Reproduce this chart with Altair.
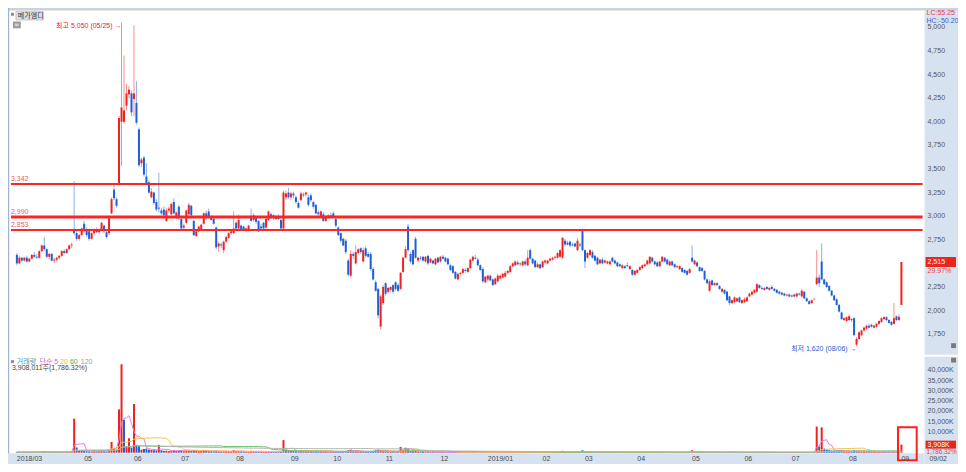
import altair as alt
import numpy as np
import pandas as pd

W, H = 950, 456
SX, SY = W / 966, H / 472


def fx(v):
    return round(v * SX, 2)


def fy(v):
    return round(v * SY, 2)


FONT = "'Liberation Sans', Arial, 'Noto Sans CJK KR', sans-serif"

# ---------------- data (daily candles, KRW) ----------------
open_ = [
    2590, 2500, 2560, 2530, 2560, 2520, 2550, 2590, 2570, 2560,
    2630, 2690, 2650, 2570, 2600, 2530, 2540, 2560, 2580, 2630,
    2610, 2650, 2690, 2850, 2820, 2760, 2800, 2920, 2850, 2840,
    2760, 2820, 2860, 2830, 2860, 2900, 2830, 2820, 3030, 3280,
    3180, 3340, 4000, 4000, 4170, 4290, 4300, 4240, 4200, 3920,
    3560, 3620, 3420, 3360, 3200, 3250, 3150, 3090, 3060, 3070,
    2950, 3060, 3020, 3150, 2980, 3100, 2970, 2880, 2930, 3020,
    3110, 2950, 2790, 2840, 2860, 2920, 3030, 3050, 3000, 2970,
    2880, 2680, 2700, 2640, 2730, 2770, 2820, 2820, 2930, 2870,
    2900, 2890, 2850, 2850, 2980, 2960, 2980, 2950, 2890, 2930,
    2880, 2960, 3020, 3010, 2970, 3000, 2960, 2870, 3200, 3250,
    3200, 3240, 3200, 3140, 3170, 3220, 3230, 3200, 3220, 3150,
    3120, 3040, 3000, 3020, 2950, 3000, 3010, 3030, 2970, 2880,
    2820, 2760, 2740, 2530, 2370, 2600, 2500, 2610, 2660, 2520,
    2660, 2600, 2600, 2440, 2300, 2230, 1830, 2080, 2290, 2200,
    2220, 2270, 2300, 2270, 2230, 2410, 2560, 2890, 2600, 2640,
    2760, 2530, 2560, 2570, 2520, 2580, 2510, 2530, 2490, 2560,
    2520, 2570, 2560, 2550, 2480, 2470, 2410, 2330, 2390, 2400,
    2430, 2410, 2450, 2530, 2560, 2540, 2480, 2440, 2300, 2330,
    2370, 2330, 2280, 2310, 2340, 2350, 2360, 2400, 2410, 2470,
    2480, 2510, 2490, 2480, 2520, 2480, 2640, 2550, 2530, 2460,
    2490, 2460, 2510, 2500, 2530, 2540, 2560, 2560, 2570, 2560,
    2740, 2720, 2730, 2700, 2710, 2640, 2700, 2850, 2640, 2560,
    2590, 2620, 2580, 2560, 2500, 2540, 2510, 2500, 2490, 2560,
    2530, 2510, 2490, 2450, 2470, 2480, 2440, 2430, 2380, 2400,
    2430, 2450, 2470, 2490, 2500, 2560, 2520, 2510, 2470, 2520,
    2560, 2540, 2480, 2520, 2490, 2460, 2440, 2450, 2430, 2420,
    2400, 2560, 2490, 2510, 2460, 2450, 2420, 2330, 2210, 2320,
    2270, 2290, 2260, 2200, 2220, 2200, 2150, 2080, 2090, 2100,
    2140, 2080, 2090, 2100, 2150, 2170, 2190, 2200, 2270, 2240,
    2220, 2250, 2220, 2250, 2230, 2220, 2200, 2190, 2180, 2160,
    2170, 2150, 2170, 2150, 2180, 2150, 2200, 2130, 2100, 2080,
    2120, 2280, 2350, 2520, 2330, 2300, 2260, 2210, 2160, 2120,
    2060, 1980, 1900, 1890, 1900, 1900, 1920, 1640, 1700, 1740,
    1790, 1810, 1840, 1850, 1820, 1830, 1860, 1880, 1910, 1930,
    1900, 1880, 1860, 1940, 1900, 2060,
]
high = [
    2610, 2580, 2570, 2570, 2580, 2560, 2600, 2620, 2600, 2640,
    2700, 2780, 2660, 2610, 2610, 2560, 2570, 2590, 2640, 2650,
    2660, 2700, 2720, 3370, 2850, 2810, 2880, 2950, 2880, 2870,
    2830, 2870, 2880, 2870, 2940, 2910, 2850, 2990, 3200, 3340,
    3200, 4060, 5050, 4700, 4400, 4380, 4330, 5020, 4430, 3940,
    3620, 3640, 3560, 3380, 3300, 3260, 3180, 3460, 3090, 3100,
    3090, 3100, 3140, 3190, 3050, 3120, 2990, 2920, 3070, 3140,
    3120, 2960, 2850, 2900, 2920, 3040, 3060, 3080, 3010, 2980,
    2890, 2730, 2720, 2740, 2790, 2830, 2860, 3050, 2950, 3020,
    2910, 2900, 2880, 2910, 3080, 3030, 3000, 2960, 2920, 2940,
    2980, 3060, 3040, 3020, 3010, 3020, 2970, 3270, 3270, 3300,
    3260, 3260, 3220, 3160, 3260, 3250, 3260, 3230, 3240, 3160,
    3130, 3060, 3060, 3040, 3010, 3020, 3040, 3050, 2990, 2890,
    2830, 2770, 2760, 2550, 2640, 2620, 2690, 2660, 2670, 2670,
    2680, 2620, 2620, 2460, 2320, 2240, 2170, 2270, 2300, 2250,
    2260, 2280, 2310, 2290, 2410, 2570, 2680, 2920, 2620, 2650,
    2780, 2570, 2580, 2580, 2580, 2590, 2560, 2540, 2560, 2570,
    2580, 2590, 2570, 2560, 2490, 2480, 2420, 2400, 2410, 2450,
    2450, 2460, 2550, 2580, 2590, 2560, 2490, 2460, 2370, 2380,
    2380, 2340, 2350, 2390, 2380, 2400, 2420, 2430, 2480, 2510,
    2530, 2530, 2510, 2530, 2540, 2640, 2660, 2560, 2540, 2510,
    2500, 2530, 2540, 2540, 2560, 2570, 2580, 2620, 2650, 2780,
    2760, 2740, 2740, 2720, 2720, 2770, 2720, 2870, 2650, 2620,
    2650, 2640, 2590, 2570, 2550, 2560, 2540, 2530, 2530, 2570,
    2540, 2520, 2500, 2490, 2480, 2510, 2480, 2440, 2430, 2440,
    2470, 2490, 2500, 2540, 2580, 2570, 2530, 2520, 2530, 2580,
    2570, 2550, 2530, 2530, 2500, 2480, 2480, 2460, 2440, 2430,
    2450, 2690, 2540, 2520, 2470, 2460, 2430, 2340, 2330, 2330,
    2300, 2300, 2270, 2240, 2230, 2210, 2160, 2120, 2150, 2140,
    2150, 2120, 2140, 2150, 2190, 2210, 2230, 2290, 2280, 2260,
    2250, 2260, 2250, 2270, 2240, 2230, 2210, 2200, 2190, 2180,
    2180, 2170, 2180, 2190, 2190, 2230, 2210, 2140, 2110, 2120,
    2130, 2640, 2380, 2710, 2340, 2310, 2270, 2220, 2170, 2130,
    2070, 1990, 1930, 1940, 1960, 1920, 1930, 1720, 1780, 1800,
    1830, 1850, 1860, 1860, 1850, 1870, 1900, 1930, 1940, 1940,
    1910, 1890, 2080, 1950, 1960, 2515,
]
low = [
    2480, 2490, 2510, 2520, 2510, 2510, 2540, 2560, 2550, 2550,
    2620, 2630, 2560, 2540, 2520, 2500, 2520, 2540, 2570, 2600,
    2600, 2640, 2660, 2800, 2740, 2740, 2790, 2830, 2780, 2740,
    2750, 2800, 2820, 2810, 2850, 2820, 2760, 2800, 3020, 3170,
    3090, 3330, 3530, 3980, 4120, 4250, 4060, 4060, 3970, 3520,
    3520, 3420, 3340, 3240, 3190, 3120, 3050, 3040, 3010, 2990,
    2940, 3040, 3010, 3020, 2970, 2960, 2840, 2860, 2920, 2990,
    2990, 2790, 2780, 2830, 2850, 2910, 2960, 2990, 2950, 2910,
    2650, 2620, 2660, 2610, 2720, 2760, 2800, 2810, 2860, 2860,
    2850, 2840, 2830, 2840, 2940, 2940, 2920, 2830, 2860, 2860,
    2860, 2950, 2970, 2960, 2960, 2960, 2850, 2860, 3170, 3180,
    3170, 3190, 3130, 3080, 3160, 3200, 3210, 3100, 3150, 3080,
    3020, 3000, 2980, 2940, 2940, 2980, 2990, 2990, 2880, 2790,
    2720, 2680, 2600, 2360, 2350, 2550, 2490, 2600, 2600, 2510,
    2560, 2560, 2420, 2320, 2200, 1920, 1800, 2060, 2160, 2180,
    2200, 2180, 2210, 2200, 2220, 2400, 2550, 2620, 2500, 2480,
    2550, 2510, 2530, 2520, 2510, 2480, 2500, 2490, 2480, 2500,
    2510, 2540, 2510, 2480, 2420, 2390, 2330, 2320, 2370, 2390,
    2400, 2400, 2440, 2520, 2540, 2470, 2420, 2290, 2290, 2300,
    2310, 2260, 2270, 2300, 2330, 2340, 2350, 2380, 2400, 2460,
    2470, 2480, 2470, 2470, 2470, 2470, 2540, 2490, 2450, 2450,
    2440, 2450, 2490, 2490, 2520, 2530, 2540, 2550, 2560, 2550,
    2680, 2690, 2670, 2680, 2670, 2630, 2670, 2630, 2450, 2550,
    2580, 2550, 2520, 2480, 2490, 2490, 2500, 2490, 2480, 2510,
    2490, 2460, 2460, 2440, 2440, 2460, 2430, 2370, 2370, 2390,
    2420, 2440, 2460, 2480, 2490, 2510, 2480, 2460, 2460, 2510,
    2510, 2480, 2470, 2470, 2450, 2450, 2430, 2400, 2390, 2370,
    2390, 2510, 2480, 2460, 2410, 2410, 2320, 2280, 2200, 2260,
    2260, 2260, 2220, 2190, 2170, 2100, 2060, 2070, 2080, 2090,
    2080, 2070, 2080, 2090, 2140, 2160, 2180, 2190, 2230, 2220,
    2210, 2220, 2210, 2220, 2200, 2180, 2170, 2160, 2150, 2150,
    2140, 2140, 2140, 2140, 2160, 2140, 2120, 2090, 2060, 2070,
    2110, 2270, 2250, 2320, 2270, 2240, 2200, 2150, 2100, 2050,
    1980, 1900, 1890, 1880, 1890, 1880, 1730, 1620, 1690, 1730,
    1780, 1800, 1810, 1820, 1810, 1820, 1850, 1870, 1900, 1890,
    1860, 1840, 1850, 1890, 1890, 2060,
]
close = [
    2500, 2560, 2530, 2560, 2520, 2550, 2590, 2570, 2560, 2630,
    2690, 2650, 2570, 2600, 2530, 2540, 2560, 2580, 2630, 2610,
    2650, 2690, 2700, 2820, 2760, 2800, 2870, 2850, 2800, 2760,
    2820, 2860, 2830, 2860, 2930, 2840, 2780, 2980, 3180, 3190,
    3110, 4040, 4150, 4120, 4300, 4340, 4100, 4300, 3990, 3540,
    3600, 3440, 3350, 3250, 3260, 3140, 3070, 3080, 3030, 3010,
    3060, 3080, 3130, 3030, 3040, 2980, 2870, 2900, 3060, 3120,
    3010, 2800, 2840, 2890, 2910, 3030, 2980, 3000, 2960, 2920,
    2670, 2710, 2690, 2730, 2780, 2820, 2840, 2870, 2870, 2960,
    2860, 2850, 2870, 2900, 2950, 3010, 2940, 2840, 2870, 2870,
    2970, 3050, 2990, 2980, 3000, 2970, 2870, 3250, 3240, 3200,
    3240, 3220, 3150, 3090, 3240, 3230, 3250, 3120, 3170, 3100,
    3030, 3020, 3050, 2950, 3000, 3010, 3000, 3000, 2900, 2800,
    2740, 2690, 2620, 2380, 2600, 2580, 2620, 2650, 2620, 2640,
    2580, 2570, 2440, 2330, 2210, 1950, 2150, 2250, 2180, 2240,
    2250, 2200, 2230, 2210, 2400, 2560, 2650, 2640, 2520, 2490,
    2560, 2560, 2550, 2530, 2570, 2500, 2550, 2500, 2550, 2510,
    2570, 2550, 2520, 2490, 2430, 2400, 2340, 2390, 2400, 2440,
    2420, 2450, 2540, 2570, 2550, 2480, 2430, 2310, 2360, 2370,
    2320, 2270, 2340, 2370, 2370, 2390, 2400, 2420, 2470, 2500,
    2520, 2490, 2500, 2520, 2490, 2560, 2550, 2500, 2460, 2490,
    2450, 2520, 2530, 2530, 2550, 2560, 2570, 2610, 2640, 2770,
    2700, 2700, 2690, 2690, 2680, 2740, 2690, 2640, 2520, 2610,
    2640, 2560, 2530, 2490, 2540, 2500, 2530, 2520, 2520, 2520,
    2500, 2470, 2470, 2480, 2450, 2470, 2470, 2380, 2420, 2430,
    2460, 2480, 2490, 2530, 2570, 2520, 2490, 2470, 2520, 2570,
    2520, 2490, 2520, 2480, 2460, 2470, 2470, 2410, 2400, 2380,
    2440, 2520, 2530, 2470, 2420, 2420, 2330, 2290, 2310, 2270,
    2290, 2270, 2230, 2230, 2180, 2110, 2080, 2110, 2140, 2130,
    2090, 2110, 2120, 2140, 2180, 2200, 2220, 2280, 2240, 2230,
    2240, 2230, 2240, 2230, 2210, 2190, 2180, 2170, 2160, 2170,
    2150, 2160, 2150, 2180, 2170, 2210, 2130, 2100, 2070, 2110,
    2125, 2350, 2290, 2330, 2280, 2250, 2210, 2160, 2110, 2060,
    1990, 1910, 1920, 1930, 1940, 1910, 1740, 1700, 1770, 1790,
    1820, 1840, 1820, 1830, 1840, 1860, 1890, 1920, 1930, 1900,
    1870, 1850, 1920, 1900, 1935, 2515,
]
volume_k = [
    300, 250, 200, 280, 220, 260, 350, 240, 210, 380,
    450, 600, 300, 250, 230, 220, 260, 240, 400, 300,
    350, 420, 380, 16500, 2500, 900, 1200, 800, 700, 600,
    500, 650, 450, 500, 900, 600, 500, 1800, 5200, 2200,
    1500, 21000, 42900, 16000, 3000, 7000, 2500, 23600, 3800, 3200,
    1500, 1800, 2000, 1500, 1300, 1200, 1100, 3800, 1200, 900,
    1000, 800, 900, 1100, 900, 1000, 1200, 700, 900, 1000,
    800, 1300, 900, 700, 800, 1100, 900, 800, 700, 600,
    1000, 700, 500, 600, 600, 700, 500, 1300, 700, 800,
    600, 500, 400, 500, 900, 700, 500, 600, 400, 400,
    500, 700, 500, 400, 400, 400, 600, 6100, 1500, 1200,
    900, 800, 700, 600, 800, 600, 500, 600, 500, 400,
    500, 400, 500, 400, 400, 300, 300, 400, 500, 500,
    600, 500, 700, 1200, 1500, 900, 700, 600, 500, 500,
    400, 500, 700, 800, 1200, 1500, 1300, 800, 600, 400,
    400, 300, 300, 400, 2800, 1500, 2400, 2000, 800, 700,
    900, 500, 400, 400, 300, 400, 300, 300, 300, 250,
    300, 250, 200, 250, 300, 300, 350, 300, 250, 200,
    250, 200, 300, 350, 300, 250, 300, 350, 300, 200,
    200, 250, 200, 180, 200, 220, 200, 250, 300, 250,
    220, 200, 200, 250, 200, 300, 400, 250, 220, 200,
    200, 180, 200, 200, 220, 250, 300, 350, 500, 900,
    400, 300, 250, 250, 300, 500, 300, 1200, 600, 300,
    350, 250, 200, 200, 180, 200, 180, 170, 160, 200,
    180, 170, 160, 200, 180, 170, 200, 180, 200, 190,
    180, 200, 250, 220, 200, 300, 250, 200, 180, 200,
    250, 200, 180, 170, 160, 200, 180, 170, 160, 180,
    200, 1200, 400, 300, 250, 250, 300, 300, 250, 250,
    200, 200, 180, 200, 200, 300, 300, 250, 220, 200,
    200, 180, 200, 200, 220, 220, 300, 250, 200, 200,
    180, 180, 170, 160, 160, 150, 150, 140, 140, 130,
    130, 130, 120, 120, 140, 200, 250, 200, 200, 150,
    100, 12700, 3000, 12300, 2000, 1500, 1200, 1000, 900, 800,
    1000, 1200, 800, 600, 500, 500, 1200, 900, 700, 600,
    500, 400, 400, 350, 350, 300, 300, 400, 350, 300,
    250, 300, 600, 300, 207, 3908,
]

month_idx = [0, 27, 47, 66, 88, 110, 127, 148, 170, 189, 211, 228, 249, 271, 292, 311, 334, 355]
month_lbl = ["2018/03", "05", "06", "07", "08", "09", "10", "11", "12",
             "2019/01", "02", "03", "04", "05", "06", "07", "08", "09"]

price_ticks = [1750, 2000, 2250, 2500, 2750, 3000, 3250, 3500, 3750, 4000, 4250, 4500, 4750, 5000]
vol_ticks = [10000, 15000, 20000, 25000, 30000, 35000, 40000]

level_price = [3342, 2990, 2853]
level_lbl = ["3,342", "2,990", "2,853"]
level_width = [2, 3, 2]

ann_idx = [42, 337]
ann_price = [5050, 1620]
ann_text = ["최고 5,050 (05/25) →", "최저 1,620 (08/06) →"]
ann_kind = ["hi", "lo"]

last_price_lbl = "2,515"
last_price_pct = "29.97%"
last_vol_lbl = "3,908K"
last_vol_pct = "1,786.32%"
vol_info = "3,908,011주(1,786.32%)"

ma_windows = [5, 20, 60, 120]
ma_colors = ["#ee7ad8", "#f6c24a", "#6cc06c", "#b4b4b4"]

# ---------------- frames ----------------
n = len(close)
df = pd.DataFrame({"i": np.arange(n), "o": open_, "h": high, "l": low, "c": close, "v": volume_k})
df["candle"] = np.where(df.c >= df.o, "up", "down")
prev_close = df.c.shift(1).fillna(df.o)
df["vcol"] = np.where(df.c >= prev_close, "up", "down")

months = pd.DataFrame({"i": month_idx, "lbl": month_lbl})
ptk = pd.DataFrame({"t": price_ticks, "lbl": [f"{t:,}" for t in price_ticks]})
vtk = pd.DataFrame({"t": vol_ticks, "lbl": [f"{t:,}K" for t in vol_ticks]})
levels = pd.DataFrame({"p": level_price, "lbl": level_lbl, "w": level_width})
ann = pd.DataFrame({"i": ann_idx, "p": ann_price, "txt": ann_text, "kind": ann_kind})
last = pd.DataFrame({"p": [close[-1]], "lbl": [last_price_lbl], "pct": [last_price_pct]})
lastv = pd.DataFrame({"v": [volume_k[-1]], "lbl": [last_vol_lbl], "pct": [last_vol_pct]})
one = pd.DataFrame({"k": [0]})

xs = alt.Scale(domain=[-1.55, 375.7], nice=False, zero=False)
ps = alt.Scale(domain=[375.6, 5204.6], nice=False, zero=False)
vs = alt.Scale(domain=[-5484, 215766], nice=False, zero=False)
cs = alt.Scale(domain=["up", "down"], range=["#ee2222", "#1f5fd6"])

X = alt.X("i:Q", scale=xs, axis=None)


def rect(x1, x2, y1, y2, **kw):
    return alt.Chart(one).mark_rect(**kw).encode(
        x=alt.value(x1), x2=alt.value(x2), y=alt.value(y1), y2=alt.value(y2))


def label(x, y, text, color, size=7, align="left", baseline="middle", weight="normal"):
    return alt.Chart(one).mark_text(text=text, color=color, fontSize=size, align=align,
                                    baseline=baseline, font=FONT, fontWeight=weight).encode(
        x=alt.value(x), y=alt.value(y))


layers = []
BAND = "#d7e2f0"
# background bands
layers.append(rect(fx(932), W, 0, H, fill=BAND))
layers.append(rect(0, fx(932), fy(461), H, fill=BAND))
layers.append(rect(0, W, 0, fy(2.5), fill="#cdd3da"))
layers.append(rect(0, 1.2, 0, fy(461), fill="#9fb4d2"))
layers.append(rect(fx(932), W, fy(359), fy(361), fill="#ffffff"))

# price candles
layers.append(alt.Chart(df).mark_rule(strokeWidth=1, opacity=0.5).encode(
    X, y=alt.Y("l:Q", scale=ps, axis=None), y2="h:Q",
    color=alt.Color("candle:N", scale=cs, legend=None)))
layers.append(alt.Chart(df).mark_bar(size=2).encode(
    X, y=alt.Y("o:Q", scale=ps, axis=None), y2="c:Q",
    color=alt.Color("candle:N", scale=cs, legend=None)))

# horizontal price levels
layers.append(alt.Chart(levels).mark_rule(color="#ff2424").encode(
    x=alt.value(fx(3)), x2=alt.value(fx(930)),
    y=alt.Y("p:Q", scale=ps, axis=None),
    strokeWidth=alt.StrokeWidth("w:Q", scale=None, legend=None)))
layers.append(alt.Chart(levels).mark_text(align="left", baseline="bottom", dy=-2, fontSize=7,
                                          color="#f05a5a", font=FONT).encode(
    x=alt.value(fx(3)), y=alt.Y("p:Q", scale=ps, axis=None), text="lbl:N"))

# volume bars + moving averages
layers.append(alt.Chart(df).mark_bar(size=2).encode(
    X, y=alt.Y("v:Q", scale=vs, axis=None), y2=alt.datum(0),
    color=alt.Color("vcol:N", scale=cs, legend=None)))
for w_, col in zip(ma_windows, ma_colors):
    layers.append(alt.Chart(df).transform_window(
        ma="mean(v)", frame=[-(w_ - 1), 0], sort=[alt.SortField("i")]
    ).mark_line(strokeWidth=1, color=col).encode(X, y=alt.Y("ma:Q", scale=vs, axis=None)))

# annotations
ann_cs = alt.Scale(domain=["hi", "lo"], range=["#f03a3a", "#3046e0"])
layers.append(alt.Chart(ann).mark_text(align="right", baseline="middle", dx=0, dy=3, fontSize=7,
                                       font=FONT).encode(
    X, y=alt.Y("p:Q", scale=ps, axis=None), text="txt:N",
    color=alt.Color("kind:N", scale=ann_cs, legend=None)))

# right axis labels
layers.append(alt.Chart(ptk).mark_text(align="left", baseline="middle", fontSize=7, color="#555555",
                                       font=FONT).encode(
    x=alt.value(fx(935)), y=alt.Y("t:Q", scale=ps, axis=None), text="lbl:N"))
layers.append(alt.Chart(vtk).mark_text(align="left", baseline="middle", fontSize=7, color="#555555",
                                       font=FONT).encode(
    x=alt.value(fx(935)), y=alt.Y("t:Q", scale=vs, axis=None), text="lbl:N"))

# current price / volume markers
layers.append(alt.Chart(last).mark_rect(color="#e8261c", yOffset=-5, y2Offset=5).encode(
    x=alt.value(fx(933)), x2=alt.value(fx(964)),
    y=alt.Y("p:Q", scale=ps, axis=None), y2="p:Q"))
layers.append(alt.Chart(last).mark_text(align="left", baseline="middle", fontSize=7, color="white",
                                        font=FONT).encode(
    x=alt.value(fx(935)), y=alt.Y("p:Q", scale=ps, axis=None), text="lbl:N"))
layers.append(alt.Chart(last).mark_text(align="left", baseline="middle", dy=9, fontSize=7,
                                        color="#f03a3a", font=FONT).encode(
    x=alt.value(fx(935)), y=alt.Y("p:Q", scale=ps, axis=None), text="pct:N"))
layers.append(alt.Chart(lastv).mark_rect(color="#e8261c", yOffset=-4, y2Offset=4).encode(
    x=alt.value(fx(933)), x2=alt.value(fx(964)),
    y=alt.Y("v:Q", scale=vs, axis=None), y2="v:Q"))
layers.append(alt.Chart(lastv).mark_text(align="left", baseline="middle", fontSize=7, color="white",
                                         font=FONT).encode(
    x=alt.value(fx(935)), y=alt.Y("v:Q", scale=vs, axis=None), text="lbl:N"))
layers.append(alt.Chart(lastv).mark_text(align="left", baseline="middle", dy=7.5, fontSize=6.3,
                                         color="#f03a3a", font=FONT).encode(
    x=alt.value(fx(934)), y=alt.Y("v:Q", scale=vs, axis=None), text="pct:N"))

# highlight box around last volume bar
layers.append(rect(fx(905), fx(924), fy(434), fy(468), filled=False, stroke="#ff2020", strokeWidth=2))

# x-axis month labels
layers.append(alt.Chart(months).mark_text(align="left", baseline="middle", fontSize=7, color="#4a4a4a",
                                          font=FONT).encode(
    X, y=alt.value(fy(466.5)), text="lbl:N"))
layers.append(label(fx(937), fy(466.5), "09/02", "#4a4a4a"))

# top-left stock name
layers.append(rect(fx(3), fx(6), fy(5), fy(8), fill="#8a8a8a"))
layers.append(rect(fx(8), fx(36), fy(3.5), fy(12.5), fill="#dedede", stroke="#b8b8b8", strokeWidth=0.6))
layers.append(label(fx(10), fy(8.3), "메가엠디", "#333333", size=7))
layers.append(rect(fx(5), fx(13), fy(14), fy(21), fill="#9a9a9a"))
layers.append(rect(fx(7), fx(11), fy(16), fy(19), fill="#d0d0d0"))

# top-right LC / HC
layers.append(label(fx(934), fy(5.5), "LC:55.25", "#e84040", size=7))
layers.append(label(fx(934), fy(13), "HC:-50.20", "#3a62d8", size=7))

# volume legend
layers.append(rect(fx(3), fx(6), fy(364.5), fy(367.5), fill="#8a8a8a"))
leg_items = [(9, "거래량", "#3fa0a8"), (32, "단순 5", "#e060d0"), (53, "20", "#f0b43a"),
             (63, "60", "#4fb04f"), (74, "120", "#a0a0a0")]
for lx, txt, col in leg_items:
    layers.append(label(fx(lx), fy(366), txt, col, size=7))
layers.append(label(fx(4), fy(373), vol_info, "#444444", size=7))

# small icons on right band
layers.append(rect(fx(959), fx(964), fy(347), fy(352), fill="#7a7a7a"))
layers.append(rect(fx(959), fx(964), fy(362), fy(367), fill="#7a7a7a"))

chart = alt.layer(*layers).properties(
    width=W, height=H, padding=0,
    autosize=alt.AutoSizeParams(type="none"),
).resolve_scale(y="independent").configure_view(strokeWidth=0).configure(background="white")

chart.save("out.html", embed_options={"renderer": "svg", "actions": False})
